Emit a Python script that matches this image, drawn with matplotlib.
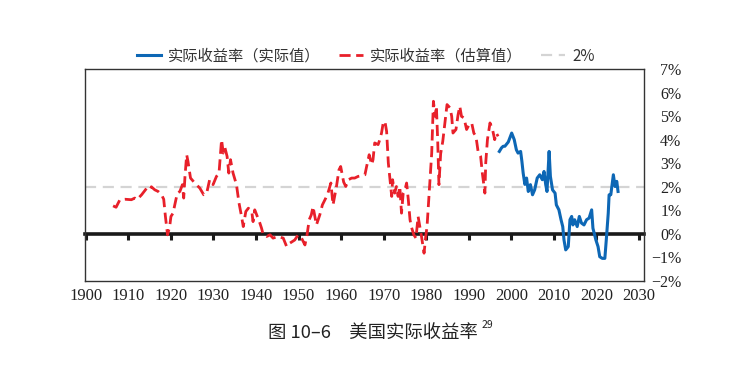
import matplotlib
matplotlib.use("Agg")
import matplotlib.pyplot as plt
from matplotlib.ticker import FuncFormatter

# estimated real yield (red dashed)
est_years = [1906.4, 1907.1, 1908.0, 1909.2, 1910.7, 1911.5, 1912.0, 1913.1, 1914.3, 1915.0,
             1915.4, 1916.2, 1917.0, 1917.8, 1918.3, 1918.7, 1919.2, 1919.7, 1920.0, 1920.5,
             1920.9, 1921.5, 1922.1, 1922.7, 1923.0, 1923.3, 1923.7, 1924.0, 1924.6, 1925.6,
             1926.8, 1927.7, 1928.4, 1929.1, 1929.9, 1930.7, 1931.3, 1931.9, 1932.3, 1932.7,
             1933.2, 1933.6, 1934.0, 1934.6, 1935.4, 1936.0, 1936.6, 1937.0, 1937.6, 1938.2,
             1939.0, 1939.3, 1939.7, 1940.3, 1940.9, 1941.3, 1941.7, 1942.5, 1943.3, 1944.0,
             1945.2, 1946.4, 1947.2, 1947.9, 1949.1, 1949.9, 1950.7, 1951.5, 1952.0, 1952.5,
             1953.0, 1953.4, 1954.2, 1955.0, 1955.6, 1956.4, 1956.9, 1957.6, 1958.1, 1958.9,
             1959.5, 1959.9, 1960.6, 1961.1, 1961.7, 1962.5, 1963.2, 1964.0, 1964.8, 1965.6,
             1966.0, 1966.6, 1967.2, 1967.5, 1967.9, 1968.7, 1969.1, 1969.5, 1969.9, 1970.3,
             1970.7, 1971.1, 1971.5, 1971.9, 1972.1, 1972.6, 1973.0, 1973.4, 1973.8, 1974.2,
             1974.6, 1975.0, 1975.4, 1975.8, 1976.2, 1976.5, 1977.1, 1977.6, 1978.1, 1978.5,
             1978.9, 1979.5, 1979.9, 1980.2, 1980.5, 1980.9, 1981.3, 1981.7, 1982.1, 1982.4,
             1982.7, 1983.0, 1983.4, 1983.9, 1984.4, 1984.9, 1985.6, 1986.0, 1986.3, 1987.0,
             1987.5, 1987.9, 1988.3, 1988.9, 1989.5, 1990.1, 1990.7, 1991.2, 1991.7, 1992.2,
             1992.8, 1993.2, 1993.8, 1994.0, 1994.4, 1995.0, 1995.6, 1996.1, 1996.5, 1996.9]
est_vals = [1.19, 1.13, 1.45, 1.47, 1.45, 1.52, 1.45, 1.66, 1.94, 1.87,
            2.00, 1.87, 1.80, 1.66, 1.47, 0.74, -0.04, 0.31, 0.74, 0.88,
            1.23, 1.73, 1.80, 2.09, 1.52, 2.44, 3.36, 3.08, 2.37, 2.16,
            1.94, 1.66, 1.73, 2.30, 2.09, 2.44, 2.58, 4.00, 3.43, 3.65,
            3.29, 2.58, 3.15, 2.58, 2.09, 1.31, 0.74, 0.31, 0.95, 1.09,
            0.95, 0.52, 1.02, 0.74, 0.46, 0.24, -0.04, -0.11, -0.04, -0.18,
            -0.11, -0.18, -0.54, -0.40, -0.26, -0.04, -0.18, -0.47, -0.04, 0.60,
            0.81, 1.16, 0.38, 0.81, 1.23, 1.52, 1.73, 2.16, 1.23, 2.00,
            2.72, 2.86, 2.20, 2.01, 2.30, 2.37, 2.37, 2.44, 2.47, 2.51,
            2.86, 3.36, 2.94, 3.15, 3.86, 3.79, 4.00, 4.28, 4.71, 4.78,
            4.35, 3.01, 2.30, 1.59, 2.30, 1.73, 2.01, 1.59, 2.01, 0.88,
            1.73, 1.87, 2.16, 1.45, 0.60, 0.31, -0.04, -0.18, 0.74, 0.31,
            -0.11, -0.82, -0.11, 0.31, 1.16, 2.30, 3.43, 5.63, 4.99, 5.42,
            4.00, 2.09, 3.40, 3.93, 4.71, 5.49, 5.35, 4.99, 4.28, 4.43,
            5.06, 5.42, 4.99, 4.92, 4.43, 4.64, 4.71, 4.28, 4.14, 3.50,
            3.29, 2.58, 1.73, 3.01, 4.00, 4.71, 4.43, 4.00, 4.28, 4.14]

# actual real yield (blue solid)
act_years = [1997.2, 1997.7, 1998.1, 1998.5, 1999.3, 2000.1, 2000.7, 2001.2, 2001.6, 2002.2,
             2002.5, 2002.8, 2003.2, 2003.6, 2004.0, 2004.5, 2005.0, 2005.5, 2006.1, 2006.7,
             2007.3, 2007.7, 2008.1, 2008.4, 2008.9, 2009.2, 2009.7, 2010.3, 2010.6, 2011.2,
             2011.7, 2012.1, 2012.4, 2012.8, 2013.4, 2013.8, 2014.2, 2014.5, 2014.9, 2015.5,
             2016.0, 2016.5, 2017.1, 2017.7, 2018.3, 2018.9, 2019.2, 2019.9, 2020.4, 2020.8,
             2021.4, 2022.0, 2022.4, 2022.8, 2023.0, 2023.4, 2024.0, 2024.4, 2024.8, 2025.1]
act_vals = [3.50, 3.65, 3.72, 3.72, 3.90, 4.28, 4.00, 3.57, 3.43, 3.50,
            3.08, 2.58, 2.10, 2.37, 1.80, 2.09, 1.66, 1.87, 2.37, 2.51,
            2.30, 2.65, 2.09, 1.80, 3.50, 2.44, 1.87, 1.73, 1.23, 1.02,
            0.60, 0.31, -0.26, -0.68, -0.54, 0.60, 0.74, 0.38, 0.60, 0.31,
            0.74, 0.46, 0.38, 0.60, 0.67, 1.02, 0.24, -0.26, -0.54, -0.97,
            -1.04, -1.04, -0.11, 0.88, 1.66, 1.66, 2.51, 2.01, 2.23, 1.80]

ref_level = 2
x_ticks = list(range(1900, 2031, 10))
y_ticks = list(range(-2, 8))

serif = "Liberation Serif"
cjk = ["Noto Sans CJK SC", "DejaVu Sans"]

fig = plt.figure(figsize=(7.51, 3.76), dpi=100)
ax = fig.add_axes([0.1132, 0.2527, 0.7443, 0.5638])

ax.axhline(ref_level, color="#d4d4d4", lw=1.6, ls=(0, (5, 3)), zorder=1, label="2%")
ax.plot(act_years, act_vals, color="#0d67b5", lw=2.2, zorder=3,
        label="实际收益率（实际值）")
ax.plot(est_years, est_vals, color="#e8202a", lw=2.0, ls=(0, (4, 2)), zorder=3,
        label="实际收益率（估算值）")

ax.set_xlim(1899.8, 2031.2)
ax.set_ylim(-2, 7)
ax.set_xticks(x_ticks)
ax.set_yticks(y_ticks)
ax.yaxis.tick_right()
ax.yaxis.set_major_formatter(FuncFormatter(lambda v, p: f"{int(v)}%".replace("-", "\u2212")))
ax.tick_params(axis="x", length=0, pad=5, labelsize=12, colors="#222222")
ax.tick_params(axis="y", length=0, pad=27, labelsize=11.5, colors="#222222")
for lab in ax.get_yticklabels():
    lab.set_horizontalalignment("right")
for lab in ax.get_xticklabels() + ax.get_yticklabels():
    lab.set_fontfamily(serif)

for sp in ax.spines.values():
    sp.set_color("#333333")
    sp.set_linewidth(1.0)

# zero line with decade ticks
zero = ax.secondary_xaxis(2 / 9)
zero.set_xticks(x_ticks)
zero.set_xticklabels([])
zero.spines["bottom"].set_linewidth(2.6)
zero.spines["bottom"].set_color("#1a1a1a")
zero.tick_params(axis="x", direction="out", length=4, width=2.2, color="#1a1a1a")

handles, labels = ax.get_legend_handles_labels()
order = [1, 2, 0]
fig.legend([handles[i] for i in order], [labels[i] for i in order],
           loc="center", bbox_to_anchor=(0.487, 0.851), ncol=3, frameon=False,
           handlelength=1.6, columnspacing=1.2, handletextpad=0.45,
           prop={"family": cjk, "size": 11}, labelcolor="#333333")

title = fig.text(0.497, 0.114, "图 10–6　美国实际收益率", ha="center", va="center",
                 fontsize=13.2, family=cjk, color="#222222")
fig.canvas.draw()
bb = title.get_window_extent(fig.canvas.get_renderer()).transformed(fig.transFigure.inverted())
fig.text(bb.x1 + 0.004, bb.y1 - 0.002, "29", ha="left", va="center", fontsize=7.5,
         family=cjk, color="#222222")

fig.savefig("out.png", dpi=100)
